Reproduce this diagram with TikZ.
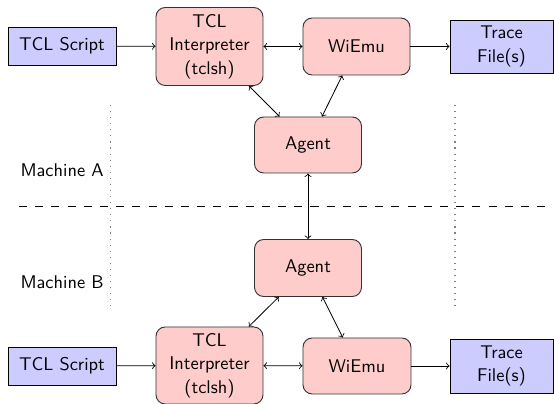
\documentclass[tikz,border=0pt]{standalone}
\usetikzlibrary{arrows}
\begin{document}
\begin{tikzpicture}[x=0.5435pt,y=-0.5435pt,
  every node/.style={font=\fontsize{10}{12.7}\selectfont\sffamily, align=center, inner sep=0pt},
  bluebox/.style={draw=black, fill=blue!20, line width=0.5pt},
  redbox/.style={draw=black!80, fill=red!20, rounded corners=5pt, line width=0.5pt},
  conn/.style={->, line width=0.45pt},
  biconn/.style={<->, line width=0.45pt},
  sep/.style={dash pattern=on 4.4pt off 4.4pt, line width=0.5pt},
  vdots/.style={gray, line width=0.6pt, dash pattern=on 0.6pt off 2.7pt},
  sz/.style 2 args={minimum width=#1*0.5435pt, minimum height=#2*0.5435pt}]
\useasboundingbox (0,0) rectangle (554,404);
% separators
\coordinate (d1) at (19,206);
\coordinate (d2) at (548,206);
\draw[sep] (d1) -- (d2);
\coordinate (l1) at (110.7,105);
\coordinate (l2) at (110.7,310);
\coordinate (r1) at (455,105);
\coordinate (r2) at (455,310);
\draw[vdots] (l1) -- (l2);
\draw[vdots] (r1) -- (r2);
\node[anchor=east] (ma) at (104,170) {Machine A};
\node[anchor=east] (mb) at (104,282) {Machine B};
% top row
\node[bluebox, sz={108}{38}] (s1) at (62,46) {TCL Script};
\node[redbox, sz={107}{78}] (i1) at (209.5,46.5) {TCL\\Interpreter\\(tclsh)};
\node[redbox, sz={107}{57}] (w1) at (356.5,46.5) {WiEmu};
\node[bluebox, sz={103}{53}] (t1) at (501.5,46.5) {Trace\\File(s)};
\node[redbox, sz={107}{56}] (a1) at (308,145) {Agent};
% bottom row
\node[redbox, sz={107}{57}] (a2) at (308,268) {Agent};
\node[bluebox, sz={108}{38}] (s2) at (62,366) {TCL Script};
\node[redbox, sz={107}{77}] (i2) at (209.5,365.5) {TCL\\Interpreter\\(tclsh)};
\node[redbox, sz={108}{56}] (w2) at (357,366) {WiEmu};
\node[bluebox, sz={103}{54}] (t2) at (501.5,366) {Trace\\File(s)};
% connectors
\draw[conn] (s1) -- (i1);
\draw[biconn] (i1) -- (w1);
\draw[conn] (w1) -- (t1);
\draw[biconn] (i1) -- (a1);
\draw[biconn] (w1) -- (a1);
\draw[biconn] (a1) -- (a2);
\draw[biconn] (a2) -- (i2);
\draw[biconn] (a2) -- (w2);
\draw[conn] (s2) -- (i2);
\draw[biconn] (i2) -- (w2);
\draw[conn] (w2) -- (t2);
\end{tikzpicture}
\end{document}
